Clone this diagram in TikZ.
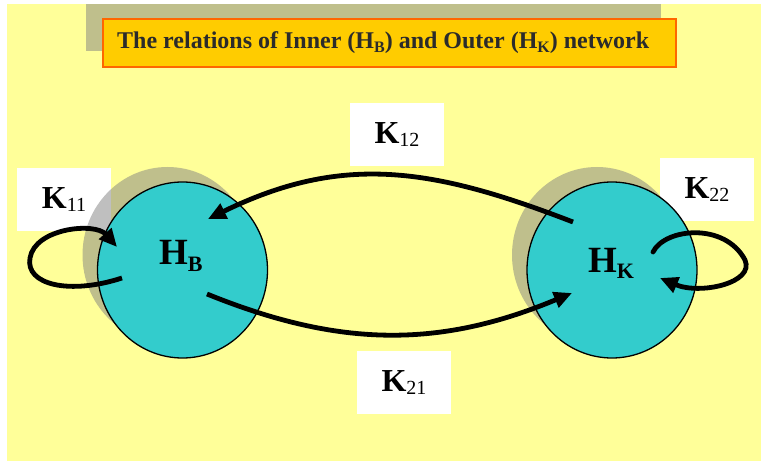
\documentclass[tikz,border=0pt]{standalone}
\usepackage{fontspec}
\setmainfont{Liberation Serif}
\usetikzlibrary{arrows.meta,shapes.geometric,calc}
\definecolor{bgyellow}{HTML}{FFFF99}
\definecolor{titlefill}{HTML}{FFCC00}
\definecolor{titleline}{HTML}{FF6600}
\definecolor{ballcyan}{HTML}{33CCCC}
\definecolor{titleink}{HTML}{2B2B2B}
\newcommand{\lowsub}[3]{\raisebox{-#2}{\fontsize{#1}{#1}\selectfont #3}}
\newcommand{\klabel}[1]{{\bfseries\fontsize{32}{32}\selectfont K}\lowsub{20}{3pt}{#1}}
\begin{document}
\begin{tikzpicture}[x=1pt,y=-1pt,
  shadowfill/.style={fill=gray,fill opacity=0.5,draw=none},
  ball/.style={ellipse,minimum width=170pt,minimum height=176pt,inner sep=0pt},
  ballbody/.style={ball,fill=ballcyan,draw=black,line width=1.3pt},
  kbox/.style={rectangle,fill=white,draw=none,minimum width=94pt,minimum height=63pt,inner sep=0pt},
  rel/.style={line width=4.8pt,draw=black,-{Triangle[length=18pt,width=16pt]}},
  hlabel/.style={anchor=base west,inner sep=0pt,font=\bfseries\fontsize{37}{37}\selectfont},
]
\useasboundingbox (0,0) rectangle (761,462);
\fill[white] (0,0) rectangle (761,462);
\fill[bgyellow] (7,4) rectangle (761,461);

% label boxes
\node[kbox] (k12) at (397,134.5) {\klabel{12}};
\node[kbox] (k11) at (64,200) {\klabel{11}};
\node[kbox] (k22) at (707,189.5) {\klabel{22}};
\node[kbox] (k21) at (404,383) {\klabel{21}};

% circles with shadows
\node[ball,shadowfill] (hbshadow) at (167.5,255) {};
\node[ball,shadowfill] (hkshadow) at (597,255) {};
\node[ballbody] (hb) at (182.5,270) {};
\node[ballbody] (hk) at (612,270) {};
\node[hlabel] (hbl) at (159,265) {H\lowsub{22}{7pt}{B}};
\node[hlabel] (hkl) at (588,273) {H\lowsub{22}{6pt}{K}};

% title
\node[rectangle,shadowfill,minimum width=575pt,minimum height=47pt,inner sep=0pt] (titleshadow) at (373.5,27.5) {};
\node[rectangle,fill=titlefill,draw=titleline,line width=2pt,minimum width=573pt,minimum height=48pt,inner sep=0pt] (title) at (389.5,43) {};
\node[anchor=base west,inner sep=0pt,text=titleink,font=\bfseries\fontsize{24}{24}\selectfont] (titlelabel) at (117,49)
  {The relations of Inner (H\lowsub{16}{3.5pt}{B}) and Outer (H\lowsub{16}{3.5pt}{K}) network};

% connector end points
\coordinate (k12s) at ($(hk.center)+(-39,-48)$);
\coordinate (k12e) at ($(hb.center)+(25.5,-51)$);
\coordinate (k21s) at ($(hb.center)+(24.5,24)$);
\coordinate (k21e) at ($(hk.center)+(-40,23)$);
\coordinate (k11s) at ($(hb.center)+(-60.5,8)$);
\coordinate (k11e) at ($(hb.center)+(-65.5,-23)$);
\coordinate (k22s) at ($(hk.center)+(41,-18)$);
\coordinate (k22e) at ($(hk.center)+(48,8)$);

% connectors
\draw[rel] (k12s) .. controls (433,168) and (343,153) .. (k12e);
\draw[rel] (k21s) .. controls (340,348) and (440,348) .. (k21e);
\draw[rel] (k11s) .. controls (70,295) and (25,285) .. (30,258) .. controls (35,228) and (95,222) .. (k11e);
\draw[rel,line cap=round] (k22s) .. controls (665,228) and (725,222) .. (745,260) .. controls (755,283) and (700,295) .. (k22e);
\end{tikzpicture}
\end{document}
